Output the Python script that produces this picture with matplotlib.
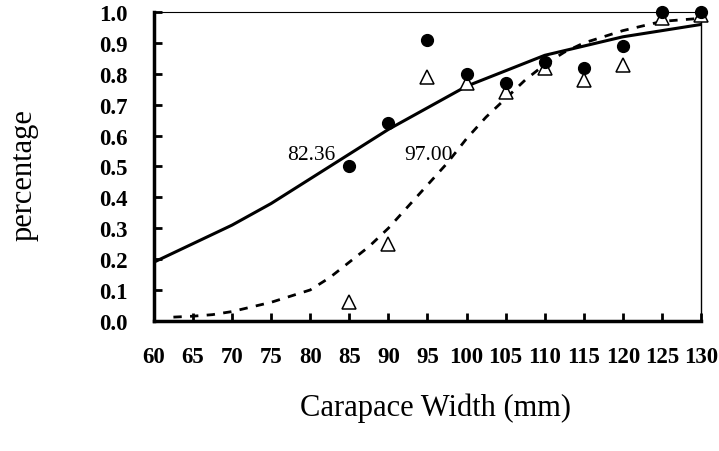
import numpy as np
import matplotlib.pyplot as plt

# Datos
anchura = [85, 90, 95, 100, 105, 110, 115, 120, 125, 130]
circulos = [0.50, 0.64, 0.91, 0.80, 0.77, 0.84, 0.82, 0.89, 1.00, 1.00]
triangulos = [0.06, 0.25, 0.79, 0.77, 0.74, 0.82, 0.78, 0.83, 0.98, 0.99]

# Curvas ajustadas (valores leídos cada 2.5 mm)
x_curva = [60, 62.5, 65, 67.5, 70, 72.5, 75, 77.5, 80, 82.5, 85, 87.5, 90, 92.5, 95,
           97.5, 100, 102.5, 105, 107.5, 110, 112.5, 115, 117.5, 120, 122.5, 125, 127.5, 130]
curva_solida = [0.19, 0.22, 0.25, 0.28, 0.31, 0.345, 0.38, 0.42, 0.46, 0.50, 0.54, 0.58,
                0.62, 0.655, 0.69, 0.725, 0.76, 0.785, 0.81, 0.835, 0.86, 0.875, 0.89,
                0.905, 0.92, 0.93, 0.94, 0.95, 0.96]
curva_discontinua = [0.01, 0.012, 0.015, 0.02, 0.03, 0.045, 0.06, 0.08, 0.10, 0.14, 0.19,
                     0.24, 0.30, 0.37, 0.44, 0.51, 0.59, 0.66, 0.72, 0.78, 0.83, 0.87, 0.90,
                     0.92, 0.94, 0.955, 0.97, 0.975, 0.98]

etiquetas = ['82.36', '97.00']
pos_etiquetas = [(83.2, 0.54), (98.3, 0.54)]

x_ticks = list(range(60, 131, 5))
y_ticks = [round(v * 0.1, 1) for v in range(11)]

plt.rcParams['font.family'] = ['Liberation Serif', 'DejaVu Serif']

fig = plt.figure(figsize=(7.19, 4.52), dpi=100)
ax = fig.add_axes([0.214, 0.288, 0.761, 0.683])

ax.plot(x_curva, curva_solida, 'k-', lw=2.2)
ax.plot(x_curva[1:], curva_discontinua[1:], 'k--', lw=2.0, dashes=(3, 3))
ax.plot(anchura, circulos, 'ko', ms=8.5, clip_on=False, zorder=5)
ax.plot(anchura, triangulos, 'k^', ms=10, mfc='white', mew=1.1, clip_on=False, zorder=4)

for txt, (tx, ty) in zip(etiquetas, pos_etiquetas):
    ax.text(tx, ty, txt, ha='right', va='center', fontsize=15.5)

ax.set_xlim(60, 130)
ax.set_ylim(0, 1.0)
ax.set_xticks(x_ticks)
ax.set_yticks(y_ticks)
ax.set_yticklabels([f'{v:.1f}' for v in y_ticks])
ax.tick_params(direction='in', length=6, width=2, labelsize=16.5, pad=19)
ax.tick_params(axis='x', pad=18)
for lab in ax.get_xticklabels() + ax.get_yticklabels():
    lab.set_fontweight('bold')

ax.spines['left'].set_linewidth(2.5)
ax.spines['bottom'].set_linewidth(2.5)
ax.spines['top'].set_linewidth(0.8)
ax.spines['right'].set_linewidth(1.0)

fig.text(0.034, 0.613, 'percentage', rotation=90, ha='center', va='center', fontsize=22)
fig.text(0.606, 0.097, 'Carapace Width (mm)', ha='center', va='center', fontsize=22)

plt.savefig('out.png', dpi=100)
